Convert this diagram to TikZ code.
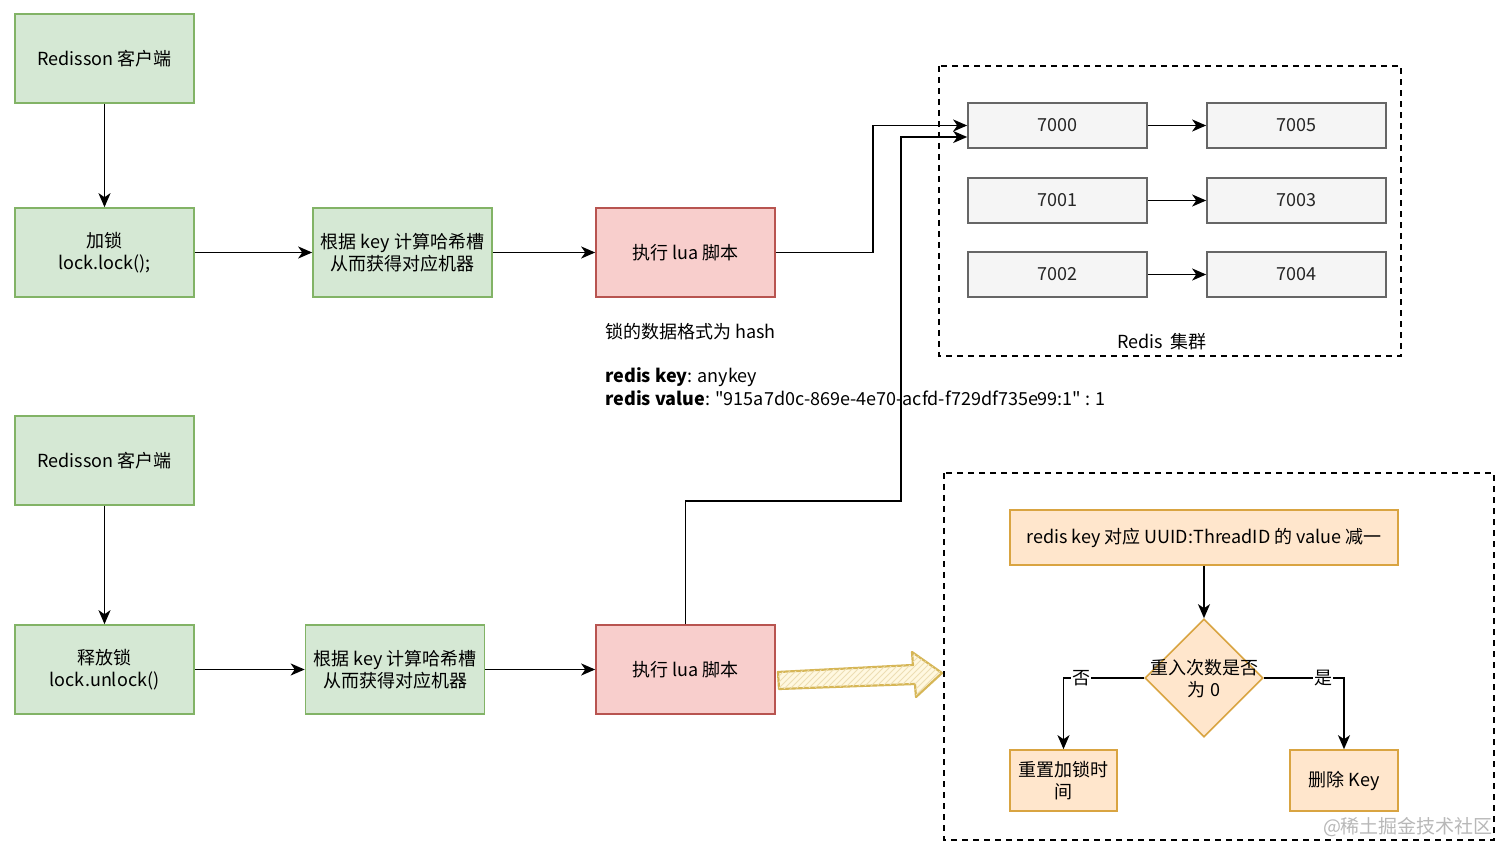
\documentclass[tikz,border=0pt]{standalone}
\usepackage{fontspec}
\setmainfont{Noto Sans CJK SC}
\newfontfamily\rawq{Noto Sans CJK SC}
\usetikzlibrary{arrows.meta,shapes.geometric,patterns}
\definecolor{gfill}{HTML}{D5E8D4}
\definecolor{gline}{HTML}{82B366}
\definecolor{rfill}{HTML}{F8CECC}
\definecolor{rline}{HTML}{B85450}
\definecolor{sfill}{HTML}{F5F5F5}
\definecolor{sline}{HTML}{666666}
\definecolor{ofill}{HTML}{FFE6CC}
\definecolor{oline}{HTML}{D9A441}
\definecolor{yfill}{HTML}{FFF8E0}
\definecolor{yline}{HTML}{D6B656}
\definecolor{wm}{HTML}{B8B8B8}
\begin{document}
\begin{tikzpicture}[x=0.5pt,y=-0.5pt,
  font=\fontsize{9}{11}\selectfont,
  every node/.style={inner sep=1pt},
  gbox/.style={draw=gline,fill=gfill,line width=0.8pt,minimum width=89.5pt,minimum height=44.5pt,align=center},
  rbox/.style={draw=rline,fill=rfill,line width=0.8pt,minimum width=89.5pt,minimum height=44.5pt,align=center},
  sbox/.style={draw=sline,fill=sfill,line width=0.8pt,minimum width=89.5pt,minimum height=22.5pt,text=black!85},
  obox/.style={draw=oline,fill=ofill,line width=0.8pt,align=center},
  arr/.style={draw=black,line width=0.85pt,-{Stealth[length=7pt,width=6pt,inset=2pt]}},
  frame/.style={draw=black,line width=0.8pt,dashed,dash pattern=on 3pt off 2.5pt},
  lbl/.style={fill=white,inner sep=0.5pt}]
\useasboundingbox (0,0) rectangle (1512,861);
\fill[white] (0,0) rectangle (1512,861);

% frames
\draw[frame] (939,66) rectangle (1401,356);
\draw[frame] (944,473) rectangle (1494,840);

% left column
\node[gbox] (r1) at (104.5,58.5) {Redisson 客户端};
\node[gbox] (lock) at (104.5,252.5) {加锁\\lock.lock();};
\node[gbox] (hash1) at (402.5,252.5) {根据 key 计算哈希槽\\从而获得对应机器};
\node[rbox] (lua1) at (685.5,252.5) {执行 lua 脚本};

\node[gbox] (r2) at (104.5,460.5) {Redisson 客户端};
\node[gbox] (unlock) at (104.5,669.5) {释放锁\\lock.unlock()};
\node[gbox] (hash2) at (395,669.5) {根据 key 计算哈希槽\\从而获得对应机器};
\node[rbox] (lua2) at (685.5,669.5) {执行 lua 脚本};

% cluster
\node[sbox] (n7000) at (1057.5,125.5) {7000};
\node[sbox] (n7005) at (1296.5,125.5) {7005};
\node[sbox] (n7001) at (1057.5,200.5) {7001};
\node[sbox] (n7003) at (1296.5,200.5) {7003};
\node[sbox] (n7002) at (1057.5,274.5) {7002};
\node[sbox] (n7004) at (1296.5,274.5) {7004};
\node (cl) at (1162,342) {Redis\ \ 集群};

% description text
\node[anchor=west] (t1) at (603,332) {锁的数据格式为 hash};
\node[anchor=west] (t2) at (603,377) {\textbf{redis key}: anykey};
\node[anchor=west,font=\rawq\fontsize{9}{11}\selectfont] (t3) at (603,398) {\textbf{redis value}: "915a7d0c-869e-4e70-acfd-f729df735e99:1" : 1};

% connectors
\draw[arr] (r1) -- (lock);
\draw[arr] (lock) -- (hash1);
\draw[arr] (hash1) -- (lua1);
\draw[arr] (r2) -- (unlock);
\draw[arr] (unlock) -- (hash2);
\draw[arr] (hash2) -- (lua2);
\draw[arr] (lua1.east) -- ++(97,0) |- (n7000.west);
\draw[arr] (lua2.north) |- (901,501) -- (901,137) -- ([yshift=-5.75pt]n7000.west);
\draw[arr] (n7000) -- (n7005);
\draw[arr] (n7001) -- (n7003);
\draw[arr] (n7002) -- (n7004);

% flow
\node[obox,minimum width=194pt,minimum height=27.5pt] (uuid) at (1204,537.5) {redis key 对应 UUID:ThreadID 的 value 减一};
\node[draw=oline,fill=ofill,line width=0.8pt,diamond,aspect=1,minimum width=59pt,minimum height=59pt,inner sep=0pt] (dia) at (1204,678) {};
\node[align=center] (diat) at (1204,679) {重入次数是否\\为 0};
\node[obox,minimum width=53.5pt,minimum height=30.5pt] (reset) at (1063.5,780.5) {重置加锁时\\间};
\node[obox,minimum width=54pt,minimum height=30.5pt] (del) at (1344,780.5) {删除 Key};
\draw[arr] (uuid) -- (dia);
\draw[arr] (dia.west) -| node[lbl,pos=0.39] {否} (reset);
\draw[arr] (dia.east) -| node[lbl,pos=0.37] {是} (del);

% sketchy hollow arrow
\draw[yline,line width=1.1pt,line join=round,fill=yfill,postaction={pattern=north east lines,pattern color=yline!45}]
  (778,672) -- (913,665) -- (912,652) -- (942,673) -- (916,697) -- (915,684) -- (779,689) -- cycle;

% watermark
\node[text=wm,font=\fontsize{9.5}{11}\selectfont] (wmk) at (1408,827) {@稀土掘金技术社区};
\end{tikzpicture}
\end{document}
